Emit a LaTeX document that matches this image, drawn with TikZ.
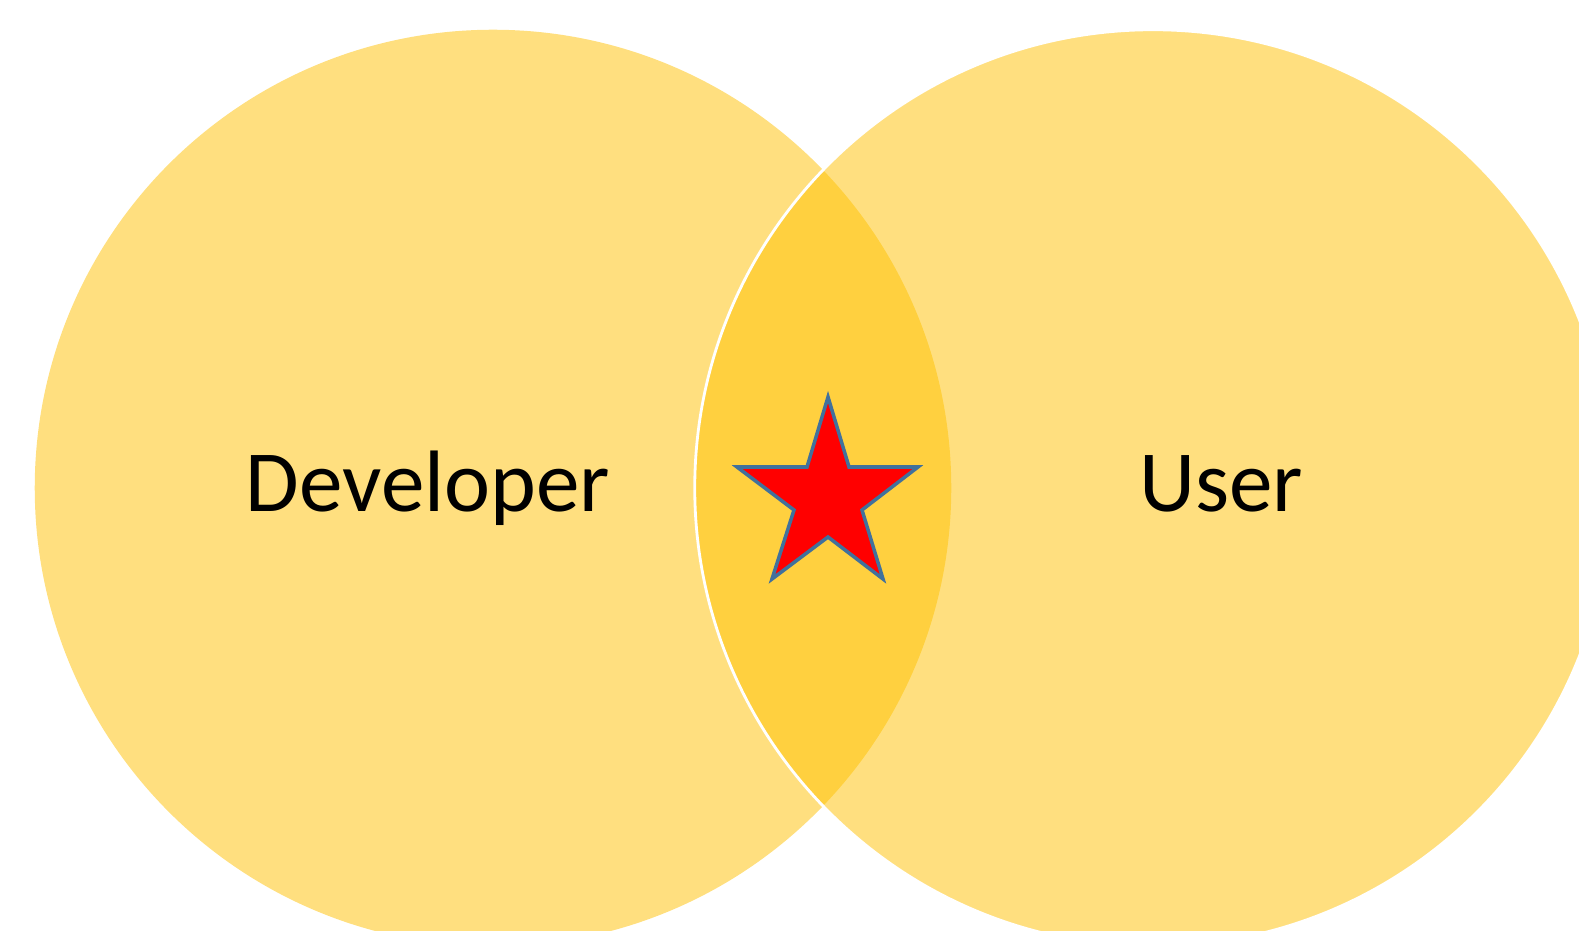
\documentclass[tikz,border=0pt]{standalone}
\usepackage{fontspec}
\setmainfont{Carlito}
\usetikzlibrary{calc}
\definecolor{gold}{HTML}{FFC000}
\definecolor{sternrand}{HTML}{41719C}

\begin{document}
\begin{tikzpicture}[x=.01cm,y=-.01cm,>=stealth]
		\useasboundingbox (0,0) rectangle (1579,931);
		\clip (0,0) rectangle (1579,931);
		
		% Kreise
		\fill[gold,opacity=.5] (493,488) circle[radius=4.58cm];
		\filldraw[fill=gold,fill opacity=.5,draw=white,line width=.8pt] (1153,488) circle[radius=4.58cm];
		
		% Stern
		\filldraw[fill=red,draw=sternrand,line width=1pt] (828,397) -- (849,467) -- (918,467) -- (862,510) -- (883,579) -- (828,537) -- (772,579) -- (794,510) -- (737,467) -- (807,467) -- cycle;
		
		% Beschriftung
		\node[anchor=base,font=\fontsize{24.8}{29}\selectfont] (entwickler) at (428,512) {Developer};
		\node[anchor=base,font=\fontsize{24.8}{29}\selectfont] (nutzer) at (1221,512) {User};
	\end{tikzpicture}
\end{document}
